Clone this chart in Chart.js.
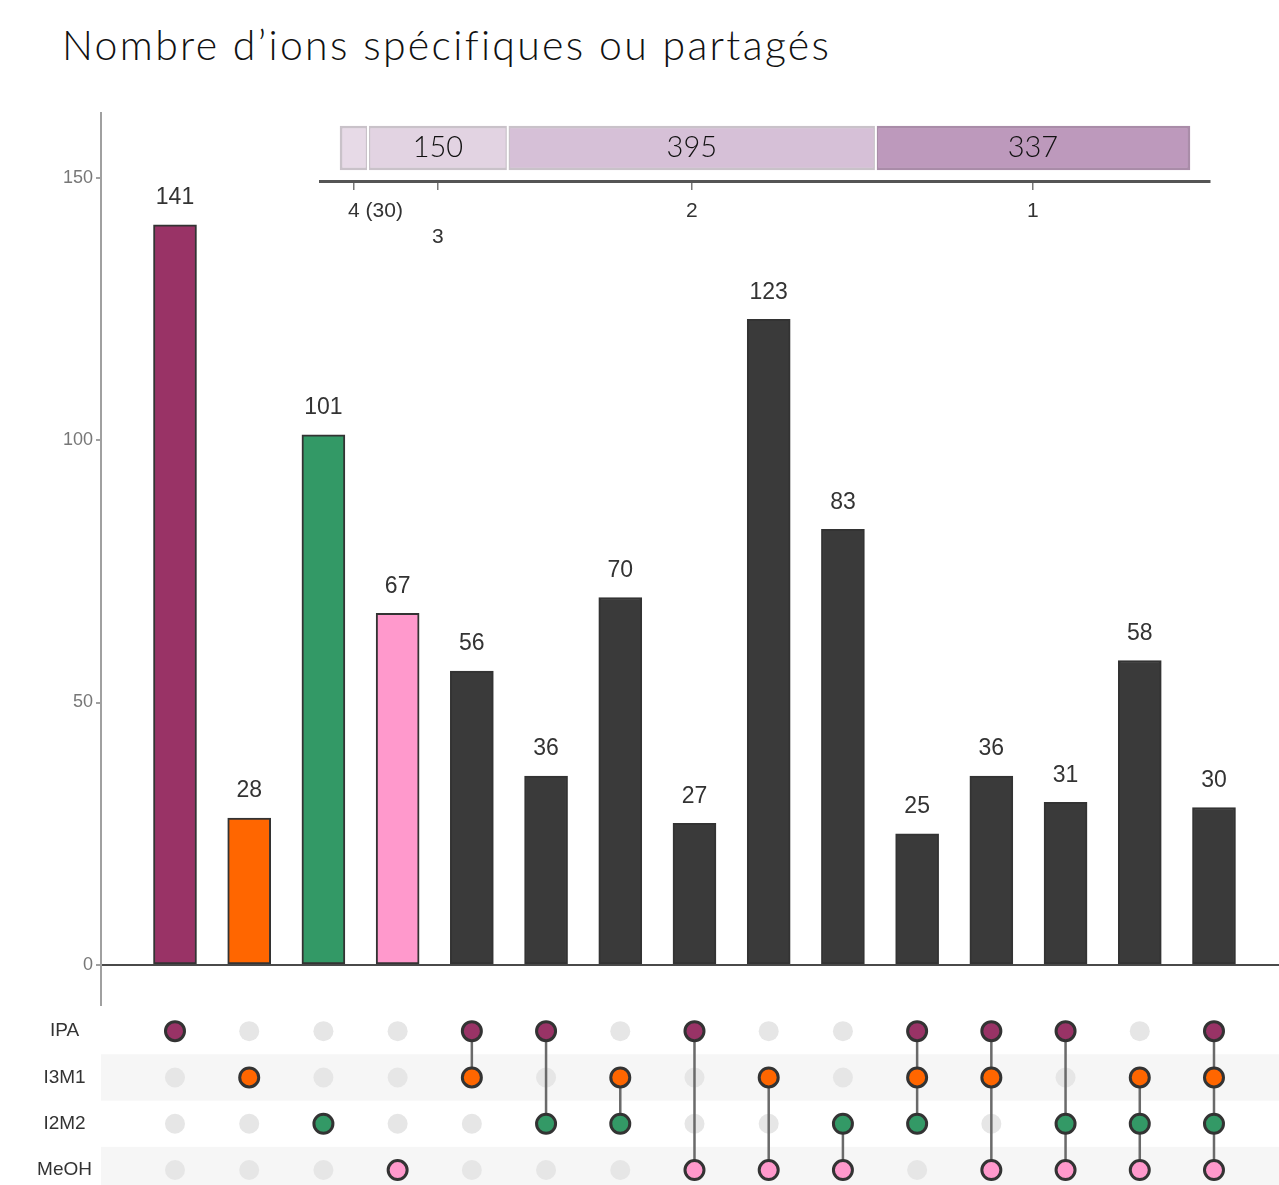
<!DOCTYPE html>
<html>
<head>
<meta charset="utf-8">
<script src="https://cdn.jsdelivr.net/npm/chart.js@4.4.1/dist/chart.umd.min.js"></script>
<style>
  html, body { margin: 0; padding: 0; background: #fff; }
  #wrap { position: relative; width: 1279px; height: 1185px; overflow: hidden; }
  #title { position: absolute; left: 62px; top: 20px; font-family: Lato, "Open Sans", sans-serif; font-weight: 300;
           font-size: 41px; color: #111; white-space: nowrap; }
  canvas { position: absolute; }
  #bars { left: 0; top: 0; }
  #matrix { left: 0; top: 1008px; }
  #degree { left: 300px; top: 100px; }
</style>
</head>
<body>
<div id="wrap">
  <div id="title"><span id="titleText">Nombre d’ions spécifiques ou partagés</span></div>
  <canvas id="bars" width="1279" height="1008"></canvas>
  <canvas id="matrix" width="1279" height="177"></canvas>
  <canvas id="degree" width="930" height="150"></canvas>
</div>
<script>
// Sets (rows of the membership matrix) and their colours
const setNames = ['IPA', 'I3M1', 'I2M2', 'MeOH'];
const setColors = ['#993366', '#FF6600', '#339966', '#FF99CC'];

// Intersections, in drawing order
const categories = [
  'IPA', 'I3M1', 'I2M2', 'MeOH',
  'IPA∩I3M1', 'IPA∩I2M2', 'I3M1∩I2M2', 'IPA∩MeOH', 'I3M1∩MeOH', 'I2M2∩MeOH',
  'IPA∩I3M1∩I2M2', 'IPA∩I3M1∩MeOH', 'IPA∩I2M2∩MeOH', 'I3M1∩I2M2∩MeOH',
  'IPA∩I3M1∩I2M2∩MeOH'
];
const counts = [141, 28, 101, 67, 56, 36, 70, 27, 123, 83, 25, 36, 31, 58, 30];
// membership of each intersection (indices into setNames)
const members = [
  [0], [1], [2], [3],
  [0, 1], [0, 2], [1, 2], [0, 3], [1, 3], [2, 3],
  [0, 1, 2], [0, 1, 3], [0, 2, 3], [1, 2, 3],
  [0, 1, 2, 3]
];
const yTicks = [0, 50, 100, 150];

// Totals by degree (number of sets shared)
const degreeLabels = ['4', '3', '2', '1'];
const degreeTotals = [30, 150, 395, 337];
const degreeColors = ['#e7dae7', '#e2d3e2', '#d6c0d7', '#bd99bc'];
const degreeBorders = ['#c9c2c9', '#c9c2c9', '#c9c2c9', '#a98ca8'];

const darkBar = '#3a3a3a';
const barColors = members.map(m => m.length === 1 ? setColors[m[0]] : darkBar);
const xMin = -0.997, xMax = 14.876;

// stretch the title to its line length
(function () {
  const t = document.getElementById('titleText');
  const txt = t.textContent;
  const extra = 766 - t.getBoundingClientRect().width;
  if (extra > 0) t.style.letterSpacing = (extra / (txt.length - 1)) + 'px';
})();

// no extra room for end tick labels
function noLabelPadding(s) {
  s.paddingTop = 0; s.paddingBottom = 0; s.paddingLeft = 0; s.paddingRight = 0;
}

// ---------- main bar chart ----------
const valueLabels = {
  id: 'valueLabels',
  afterDatasetsDraw(chart) {
    const ctx = chart.ctx;
    const meta = chart.getDatasetMeta(0);
    ctx.save();
    ctx.font = '23px "Liberation Sans", Arial, sans-serif';
    ctx.fillStyle = '#333';
    ctx.textAlign = 'center';
    ctx.textBaseline = 'middle';
    meta.data.forEach((bar, i) => {
      ctx.fillText(String(counts[i]), bar.x, bar.y - 27);
    });
    ctx.restore();
  }
};

new Chart(document.getElementById('bars'), {
  type: 'bar',
  data: {
    datasets: [{
      data: counts.map((v, i) => ({ x: i, y: v })),
      backgroundColor: barColors,
      borderColor: '#333',
      borderWidth: 2,
      borderSkipped: false,
      barThickness: 43
    }]
  },
  options: {
    animation: false,
    responsive: false,
    layout: { autoPadding: false, padding: { top: 113, right: 0, bottom: 3, left: 0 } },
    plugins: { legend: { display: false }, tooltip: { enabled: false } },
    scales: {
      x: { type: 'linear', min: xMin, max: xMax, offset: false, display: false },
      y: {
        min: -7.62, max: 162.3,
        afterFit(s) { s.width = 101; noLabelPadding(s); },
        afterBuildTicks(s) { s.ticks = yTicks.map(v => ({ value: v })); },
        border: { display: true, color: '#a0a0a0', width: 2 },
        grid: {
          drawTicks: true, tickLength: 5,
          color: c => c.tick && c.tick.value === 0 ? '#4a4a4a' : 'rgba(0,0,0,0)',
          tickColor: '#a0a0a0',
          lineWidth: 2
        },
        ticks: {
          color: '#777', padding: 3,
          font: { family: '"Liberation Sans", Arial, sans-serif', size: 18 }
        }
      }
    }
  },
  plugins: [valueLabels]
});

// ---------- membership matrix ----------
const rowH = 46.3;
const bands = {
  id: 'bands',
  beforeDatasetsDraw(chart) {
    const { ctx, chartArea, scales } = chart;
    ctx.save();
    ctx.fillStyle = '#f6f6f6';
    [1, 3].forEach(r => {
      const yc = scales.y.getPixelForValue(r);
      ctx.fillRect(chartArea.left, yc - rowH / 2, chartArea.right - chartArea.left, rowH);
    });
    ctx.restore();
  }
};

const inactive = [];
categories.forEach((c, i) => {
  setNames.forEach((s, r) => {
    if (!members[i].includes(r)) inactive.push({ x: i, y: r });
  });
});
const connectors = [];
members.forEach((m, i) => {
  if (m.length > 1) {
    connectors.push({ x: i, y: Math.min(...m) });
    connectors.push({ x: i, y: Math.max(...m) });
    connectors.push({ x: i, y: null });
  }
});
const activeSets = setNames.map((s, r) => ({
  type: 'scatter',
  data: members.map((m, i) => m.includes(r) ? { x: i, y: r } : null).filter(Boolean),
  backgroundColor: setColors[r],
  borderColor: '#333',
  borderWidth: 3,
  pointRadius: 9.5,
  order: 1
}));

new Chart(document.getElementById('matrix'), {
  type: 'scatter',
  data: {
    datasets: [
      { data: inactive, backgroundColor: '#e6e6e6', borderWidth: 0, pointRadius: 10, order: 3 },
      { type: 'line', data: connectors, borderColor: '#6a6a6a', borderWidth: 2.5, pointRadius: 0,
        spanGaps: false, order: 2 },
      ...activeSets
    ]
  },
  options: {
    animation: false,
    responsive: false,
    layout: { autoPadding: false, padding: 0 },
    plugins: { legend: { display: false }, tooltip: { enabled: false } },
    scales: {
      x: { type: 'linear', min: xMin, max: xMax, display: false },
      y: {
        type: 'linear', reverse: true, min: -0.5, max: -0.5 + 177 / rowH,
        afterFit(s) { s.width = 101; noLabelPadding(s); },
        afterBuildTicks(s) { s.ticks = setNames.map((n, i) => ({ value: i })); },
        border: { display: false },
        grid: { display: false },
        ticks: {
          padding: 1, color: '#333', crossAlign: 'center',
          font: { family: '"Liberation Sans", Arial, sans-serif', size: 19 },
          callback: v => setNames[v]
        }
      }
    }
  },
  plugins: [bands]
});

// ---------- totals by degree ----------
const degreeText = {
  id: 'degreeText',
  afterDatasetsDraw(chart) {
    const ctx = chart.ctx;
    const xs = chart.scales.x;
    const yBottom = chart.chartArea.bottom;
    ctx.save();
    // values inside the segments
    ctx.font = '300 29px Lato, "Open Sans", sans-serif';
    ctx.fillStyle = '#111';
    ctx.textAlign = 'center';
    ctx.textBaseline = 'middle';
    let acc = 0;
    degreeTotals.forEach((v, i) => {
      const mid = acc + v / 2;
      acc += v;
      if (i > 0) {
        const el = chart.getDatasetMeta(i).data[0];
        ctx.fillText(String(v), xs.getPixelForValue(mid), el.y);
      }
    });
    // degree labels under the axis
    ctx.font = '21px "Liberation Sans", Arial, sans-serif';
    ctx.fillStyle = '#333';
    acc = 0;
    degreeTotals.forEach((v, i) => {
      const px = xs.getPixelForValue(acc + v / 2);
      acc += v;
      if (i === 0) {
        ctx.textAlign = 'left';
        ctx.fillText(degreeLabels[i] + ' (' + v + ')', px - 6, yBottom + 30);
      } else if (i === 1) {
        ctx.textAlign = 'center';
        ctx.fillText(degreeLabels[i], px, yBottom + 56);
      } else {
        ctx.textAlign = 'center';
        ctx.fillText(degreeLabels[i], px, yBottom + 30);
      }
    });
    ctx.restore();
  }
};

// thin white seams between the stacked segments
const seams = {
  id: 'seams',
  afterDatasetsDraw(chart) {
    const ctx = chart.ctx;
    ctx.save();
    ctx.strokeStyle = '#ffffff';
    ctx.lineWidth = 2;
    for (let i = 0; i < degreeTotals.length - 1; i++) {
      const el = chart.getDatasetMeta(i).data[0];
      const x = Math.max(el.x, el.base);
      ctx.beginPath();
      ctx.moveTo(x, el.y - el.height / 2 - 1);
      ctx.lineTo(x, el.y + el.height / 2 + 1);
      ctx.stroke();
    }
    ctx.restore();
  }
};

const degreeMids = [];
degreeTotals.reduce((acc, v) => { degreeMids.push(acc + v / 2); return acc + v; }, 0);

new Chart(document.getElementById('degree'), {
  type: 'bar',
  data: {
    labels: ['degré'],
    datasets: degreeTotals.map((v, i) => ({
      label: degreeLabels[i],
      data: [v],
      backgroundColor: degreeColors[i],
      borderColor: degreeBorders[i],
      borderWidth: 2.5,
      borderSkipped: false,
      barThickness: 44
    }))
  },
  options: {
    indexAxis: 'y',
    animation: false,
    responsive: false,
    layout: { autoPadding: false, padding: { top: 15, left: 20, right: 20, bottom: 0 } },
    plugins: { legend: { display: false }, tooltip: { enabled: false } },
    scales: {
      x: {
        stacked: true, min: -21.5, max: 933.5,
        afterFit(s) { s.height = 69; noLabelPadding(s); },
        afterBuildTicks(s) { s.ticks = degreeMids.map(v => ({ value: v })); },
        border: { display: true, color: '#555', width: 3 },
        grid: { drawOnChartArea: false, drawTicks: true, tickLength: 9, tickColor: '#777', lineWidth: 1.5 },
        ticks: { display: false }
      },
      y: { stacked: true, display: false }
    }
  },
  plugins: [seams, degreeText]
});
</script>
</body>
</html>
